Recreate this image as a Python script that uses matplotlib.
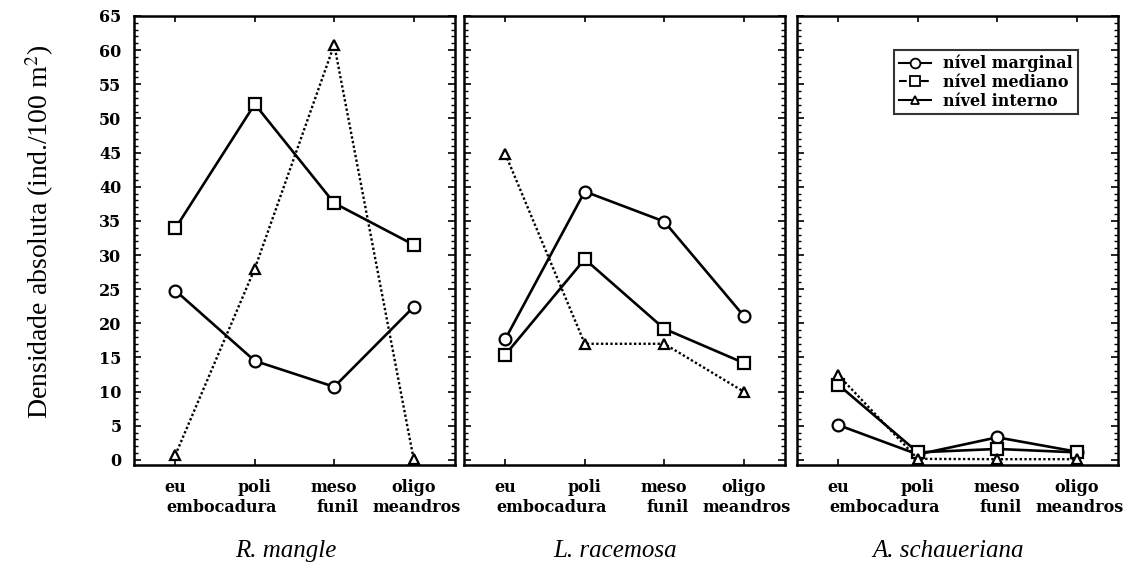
import matplotlib
matplotlib.use("Agg")
import matplotlib.pyplot as plt
from matplotlib.lines import Line2D
from matplotlib.ticker import MultipleLocator, FixedLocator

plt.rcParams['font.family'] = ['Liberation Serif', 'DejaVu Serif']
plt.rcParams['mathtext.fontset'] = 'stix'

# ---- data ----
categories = ["eu", "poli", "meso", "oligo"]
categories_sub = ["embocadura", "", "funil", "meandros"]
species = ["R. mangle", "L. racemosa", "A. schaueriana"]
series_names = ["nível marginal", "nível mediano", "nível interno"]

r_mangle_marginal = [24.8, 14.5, 10.7, 22.4]
r_mangle_mediano = [33.9, 52.1, 37.6, 31.5]
r_mangle_interno = [0.7, 28.0, 60.8, 0.1]

l_racemosa_marginal = [17.7, 39.3, 34.9, 21.1]
l_racemosa_mediano = [15.4, 29.4, 19.2, 14.2]
l_racemosa_interno = [44.8, 17.0, 17.0, 10.0]

a_schaueriana_marginal = [5.1, 0.8, 3.3, 1.2]
a_schaueriana_mediano = [11.0, 1.1, 1.6, 1.1]
a_schaueriana_interno = [12.4, 0.15, 0.1, 0.1]

y_ticks = list(range(0, 66, 5))

panels = [
    (r_mangle_marginal, r_mangle_mediano, r_mangle_interno),
    (l_racemosa_marginal, l_racemosa_mediano, l_racemosa_interno),
    (a_schaueriana_marginal, a_schaueriana_mediano, a_schaueriana_interno),
]

W, H = 1134, 572
fig = plt.figure(figsize=(W / 100, H / 100), dpi=100)

lefts = [134, 464, 797]
width_px = 321
bottom_px, top_px = 465, 16

styles = [
    dict(marker='o', ls='-', lw=1.9, ms=8.5),
    dict(marker='s', ls='-', lw=1.9, ms=8),
    dict(marker='^', ls=(0, (1, 1)), lw=1.7, ms=7),
]

xs = list(range(len(categories)))
TICK_FAM = 'DejaVu Serif'
TICK_SIZE = 11.5
tick_font = dict(family=TICK_FAM, weight='bold', size=TICK_SIZE)

for i, (left, data) in enumerate(zip(lefts, panels)):
    ax = fig.add_axes([left / W, 1 - bottom_px / H, width_px / W, (bottom_px - top_px) / H])
    for vals, st in zip(data, styles):
        ax.plot(xs, vals, color='black', marker=st['marker'], ls=st['ls'], lw=st['lw'],
                ms=st['ms'], mfc='white', mec='black', mew=1.6, zorder=3)
    ax.set_xlim(-0.52, 3.52)
    ax.set_ylim(-0.75, 65)
    ax.yaxis.set_major_locator(FixedLocator(y_ticks))
    ax.yaxis.set_minor_locator(MultipleLocator(1))
    ax.set_xticks(xs)
    ax.tick_params(axis='both', which='both', direction='in', top=True, right=True)
    ax.tick_params(axis='y', which='major', length=5, width=1.2)
    ax.tick_params(axis='y', which='minor', length=3, width=1.0)
    ax.tick_params(axis='x', which='major', length=4, width=1.2, pad=10)
    ax.set_xticklabels(categories, fontdict=tick_font)
    if i == 0:
        ax.set_yticklabels([str(t) for t in y_ticks], fontdict=tick_font)
        ax.tick_params(axis='y', pad=9)
    else:
        ax.set_yticklabels([])
    for sp in ax.spines.values():
        sp.set_linewidth(1.8)
    # second line of category labels
    sub_x = [0.58, 1.0, 2.04, 3.04]
    for sx, lab in zip(sub_x, categories_sub):
        if lab:
            ax.text(sx, -0.095, lab, transform=ax.get_xaxis_transform(),
                    ha='center', va='center', fontfamily=TICK_FAM,
                    fontweight='bold', fontsize=TICK_SIZE)
    fig.text((left + width_px / 2 - 9) / W, 1 - 551 / H, species[i],
             ha='center', va='center', fontsize=18, style='italic',
             family='Liberation Serif')
    if i == 2:
        handles = [
            Line2D([], [], color='black', marker='o', ls='-', lw=1.5, ms=7, mfc='white', mew=1.3),
            Line2D([], [], color='black', marker='s', ls='--', lw=1.5, ms=7, mfc='white', mew=1.3),
            Line2D([], [], color='black', marker='^', ls='-', lw=1.5, ms=6, mfc='white', mew=1.3),
        ]
        leg = ax.legend(handles, series_names, loc='upper right',
                        bbox_to_anchor=(0.875, 0.924), frameon=True, fancybox=False,
                        edgecolor='black', handlelength=2.0, handletextpad=0.8,
                        borderpad=0.3, labelspacing=0.1, borderaxespad=0,
                        prop=dict(family=TICK_FAM, weight='bold', size=11.5))
        leg.get_frame().set_linewidth(1.5)

fig.text(40 / W, 1 - 232 / H, "Densidade absoluta (ind./100 m$^{2}$)",
         rotation=90, ha='center', va='center', fontsize=20, family='Liberation Serif')

fig.savefig("out.png", dpi=100)
